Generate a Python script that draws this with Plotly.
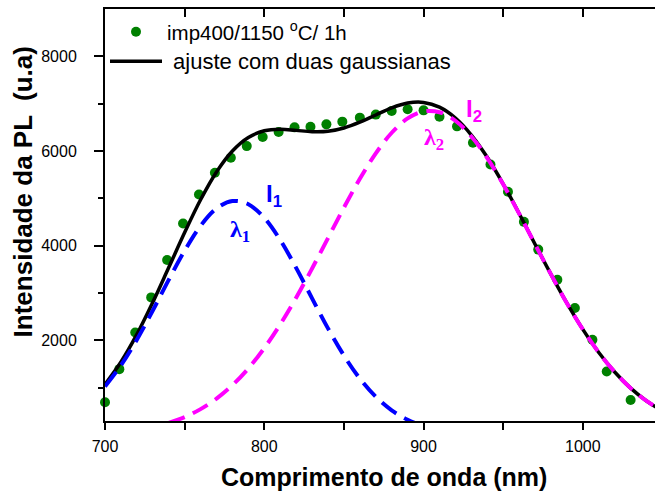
import plotly.graph_objects as go

# Measured PL spectrum (wavelength in nm, intensity in a.u.)
wl_data = [700, 709, 719, 729, 739, 749, 759, 769, 779, 789, 799, 809, 819, 829, 839,
           849, 860, 870, 880, 890, 900, 910, 921, 931, 942, 953, 963, 972, 984, 995,
           1006, 1015, 1030]
pl_data = [697, 1395, 2169, 2910, 3701, 4469, 5083, 5542, 5859, 6105, 6296, 6401, 6501,
           6515, 6564, 6621, 6706, 6770, 6846, 6882, 6860, 6727, 6522, 6177, 5718, 5140,
           4505, 3919, 3284, 2686, 2015, 1344, 745]

# Two-gaussian fit (sum) sampled every 10 nm
wl_fit = list(range(700, 1051, 10))
pl_fit = [1074, 1546, 2128, 2806, 3540, 4280, 4972, 5559, 6002, 6288, 6428, 6462, 6437,
          6410, 6419, 6488, 6609, 6762, 6912, 7014, 7028, 6928, 6698, 6339, 5868, 5304,
          4682, 4033, 3396, 2788, 2234, 1748, 1335, 994, 723, 514]

# First gaussian component (lambda_1)
wl_g1 = list(range(700, 901, 10))
pl_g1 = [1030, 1475, 2016, 2633, 3279, 3897, 4421, 4787, 4945, 4877, 4589, 4122, 3533,
         2890, 2256, 1682, 1195, 811, 525, 325, 191]

# Second gaussian component (lambda_2)
wl_g2 = list(range(740, 1051, 10))
pl_g2 = [261, 383, 551, 772, 1057, 1411, 1839, 2340, 2904, 3520, 4163, 4806, 5414, 5951,
         6387, 6689, 6837, 6820, 6640, 6309, 5853, 5297, 4679, 4033, 3396, 2788, 2234,
         1748, 1335, 994, 723, 514]

x_range = [700, 1045.3]
y_range = [300, 9000]

SANS = "Liberation Sans, Arial, sans-serif"
SERIF = "Liberation Serif, Times New Roman, serif"

fig = go.Figure()

fig.add_trace(go.Scatter(
    x=wl_data, y=pl_data, mode="markers",
    name="imp400/1150 <sup>o</sup>C/ 1h",
    marker=dict(color="#008000", size=10, line=dict(width=0)), cliponaxis=False))

fig.add_trace(go.Scatter(
    x=wl_fit, y=pl_fit, mode="lines",
    name='<span style="font-size:22px"> ajuste com duas gaussianas</span>',
    line=dict(color="black", width=3.5, shape="spline")))

fig.add_trace(go.Scatter(
    x=wl_g1, y=pl_g1, mode="lines", showlegend=False,
    line=dict(color="#0000FF", width=4, dash="18px,9px", shape="spline")))

fig.add_trace(go.Scatter(
    x=wl_g2, y=pl_g2, mode="lines", showlegend=False,
    line=dict(color="#FF00FF", width=4, dash="17px,9px", shape="spline")))

# helper trace so the top (mirror) axis is drawn
fig.add_trace(go.Scatter(x=[x_range[0]], y=[y_range[0]], xaxis="x2", mode="markers",
                         marker=dict(opacity=0), showlegend=False, hoverinfo="skip"))

fig.update_layout(
    width=655, height=493,
    margin=dict(l=105, r=0, t=9, b=72),
    paper_bgcolor="white", plot_bgcolor="white",
    font=dict(family=SANS, size=16, color="black"),
    showlegend=True,
    legend=dict(x=0.0, y=0.993, xanchor="left", yanchor="top",
                bgcolor="rgba(0,0,0,0)", borderwidth=0,
                font=dict(family=SANS, size=20.5, color="black"),
                itemwidth=52, tracegroupgap=0),
    xaxis=dict(range=x_range, showgrid=False, zeroline=False,
               showline=True, linecolor="black", linewidth=2,
               ticks="outside", ticklen=7, tickwidth=1.5, tickcolor="black",
               tickvals=[700, 800, 900, 1000], ticklabelstandoff=3,
               tickfont=dict(family=SANS, size=16),
               minor=dict(tickvals=[750, 850, 950], ticks="outside", ticklen=7,
                          tickwidth=1.5, tickcolor="black")),
    xaxis2=dict(range=x_range, overlaying="x", side="top", showgrid=False,
                zeroline=False, showline=True, linecolor="black", linewidth=2,
                ticks="inside", ticklen=8, tickwidth=1.5, tickcolor="black",
                tickvals=[750, 800, 850, 900, 950, 1000], showticklabels=False),
    yaxis=dict(range=y_range, showgrid=False, zeroline=False,
               showline=True, linecolor="black", linewidth=2,
               ticks="outside", ticklen=9, tickwidth=1.5, tickcolor="black",
               tickvals=[2000, 4000, 6000, 8000], ticklabelstandoff=14,
               tickfont=dict(family=SANS, size=16),
               minor=dict(tickvals=[1000, 3000, 5000, 7000], ticks="outside",
                          ticklen=5, tickwidth=1.5, tickcolor="black")),
)

# axis titles
fig.add_annotation(text="<b>Comprimento de onda (nm)</b>", xref="paper", yref="paper",
                   x=0.507, y=-0.136, xanchor="center", yanchor="middle", showarrow=False,
                   font=dict(family=SANS, size=25, color="black"))
fig.add_annotation(text="<b>Intensidade da PL  (u.a)</b>", xref="paper", yref="paper",
                   x=-0.149, y=0.555, xanchor="center", yanchor="middle", showarrow=False,
                   textangle=-90, font=dict(family=SANS, size=26, color="black"))

# component labels
labels = [
    ("<b>I<sub>1</sub></b>", 806, 5070, "#0000FF", SANS),
    ("<b>λ<sub>1</sub></b>", 785, 4320, "#0000FF", SERIF),
    ("<b>I<sub>2</sub></b>", 931.5, 6860, "#FF00FF", SANS),
    ("<b>λ<sub>2</sub></b>", 906.5, 6260, "#FF00FF", SERIF),
]
for txt, lx, ly, col, fam in labels:
    fig.add_annotation(text=txt, x=lx, y=ly, xref="x", yref="y", showarrow=False,
                       xanchor="center", yanchor="middle",
                       font=dict(family=fam, size=24, color=col))

fig.write_html("out.html")
